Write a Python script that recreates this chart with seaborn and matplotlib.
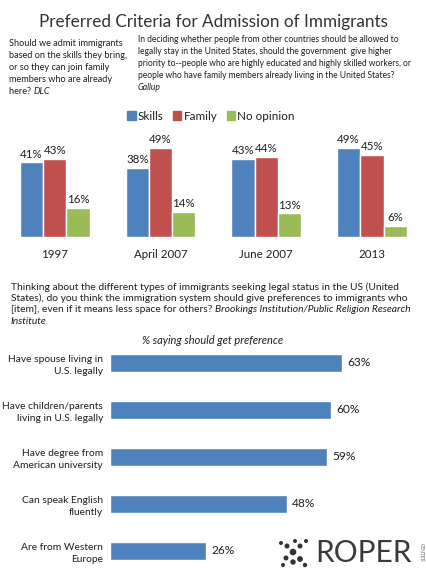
import matplotlib
matplotlib.use("Agg")
import matplotlib.pyplot as plt
import pandas as pd
import seaborn as sns
from matplotlib.patches import Patch, Circle

# --- data ---
periods = ["1997", "April 2007", "June 2007", "2013"]
series = ["Skills", "Family", "No opinion"]
skills = [41, 38, 43, 49]
family = [43, 49, 44, 45]
no_opinion = [16, 14, 13, 6]

items = [
    "Have spouse living in\nU.S. legally",
    "Have children/parents\nliving in U.S. legally",
    "Have degree from\nAmerican university",
    "Can speak English\nfluently",
    "Are from Western\nEurope",
]
pref = [63, 60, 59, 48, 26]

colors = ["#4F81BD", "#C0504D", "#9BBB59"]
TXT = "#1e1e1e"
W, H = 427, 570


def fx(x):
    return x / W


def fy(y):
    return 1 - y / H


sns.set_theme(style="white")
plt.rcParams["font.family"] = ["Lato", "DejaVu Sans"]
plt.rcParams["text.color"] = TXT

fig = plt.figure(figsize=(W / 100, H / 100), dpi=100)
renderer = fig.canvas.get_renderer()


def write_line(x, y, segs, size):
    # segs: list of (text, style); drawn one after another on the same baseline
    for txt, st in segs:
        t = fig.text(fx(x), fy(y), txt, fontsize=size, style=st,
                     ha="left", va="center")
        x += t.get_window_extent(renderer).width


def write_block(x, ys, lines, size):
    for y, ln in zip(ys, lines):
        if isinstance(ln, str):
            ln = [(ln, "normal")]
        write_line(x, y, ln, size)


# --- header texts ---
fig.text(0.5, fy(22), "Preferred Criteria for Admission of Immigrants",
         ha="center", va="center", fontsize=12.3, color="#333333")

write_block(9, [43, 55, 67, 79, 91], [
    "Should we admit immigrants",
    "based on the skills they bring,",
    "or so they can join family",
    "members who are already",
    [("here? ", "normal"), ("DLC", "italic")],
], 6.6)
write_block(138, [40, 52, 64, 76, 88], [
    "In deciding whether people from other countries should be allowed to",
    "legally stay in the United States, should the government  give higher",
    "priority to--people who are highly educated and highly skilled workers, or",
    "people who have family members already living in the United States?",
    [("Gallup", "italic")],
], 6.15)

# --- top grouped bar chart ---
top = pd.DataFrame({
    "period": periods * 3,
    "series": [s for s in series for _ in periods],
    "value": skills + family + no_opinion,
})
ax1 = fig.add_axes([fx(2), fy(237), 0.99, 109.2 / H])
sns.barplot(data=top, x="period", y="value", hue="series", order=periods,
            hue_order=series, palette=colors, width=0.66, saturation=1,
            gap=0, ax=ax1, legend=False)
for cont in ax1.containers:
    ax1.bar_label(cont, fmt="%d%%", padding=2, fontsize=8.3, color=TXT)
ax1.set_xlim(-0.5, 3.5)
ax1.set_ylim(0, 60)
ax1.set_xlabel("")
ax1.set_ylabel("")
ax1.set_yticks([])
ax1.tick_params(axis="x", length=0, pad=9, labelsize=8.3, labelcolor=TXT)
sns.despine(ax=ax1, left=True, bottom=True)

handles = [Patch(color=c, label=s) for c, s in zip(colors, series)]
fig.legend(handles=handles, loc="center", bbox_to_anchor=(fx(211), fy(116)),
           ncol=3, frameon=False, fontsize=8.4, handlelength=0.7, handleheight=0.7,
           handletextpad=0.2, columnspacing=0.8)

# --- middle texts ---
write_block(11, [287, 298.5, 310, 321], [
    "Thinking about the different types of immigrants seeking legal status in the US (United",
    "States), do you think the immigration system should give preferences to immigrants who",
    [("[item], even if it means less space for others? ", "normal"),
     ("Brookings Institution/Public Religion Research", "italic")],
    [("Institute", "italic")],
], 7.4)
fig.text(fx(213), fy(341), "% saying should get preference", ha="center", va="center",
         fontsize=7.9, style="italic")

# --- bottom horizontal bar chart ---
ax2 = fig.add_axes([fx(110), fy(574.5), 294.4 / W, 235 / H])
sns.barplot(x=pref, y=items, orient="h", color=colors[0], width=0.40,
            saturation=1, ax=ax2)
ax2.bar_label(ax2.containers[0], fmt="%d%%", padding=4, fontsize=8.6, color=TXT)
ax2.set_xlim(0, 80)
ax2.set_ylim(4.5, -0.5)
ax2.set_xticks([])
ax2.tick_params(axis="y", length=0, pad=5, labelsize=7.4, labelcolor=TXT)
for t in ax2.get_yticklabels():
    t.set_linespacing(1.45)
sns.despine(ax=ax2, left=True, bottom=True)

# --- ROPER logo ---
fig.text(fx(315), fy(553), "ROPER", ha="left", va="center", fontsize=21.5,
         color="#3a3a3a")
fig.text(fx(421), fy(552), "CENTER", ha="center", va="center", fontsize=3.5,
         rotation=-90, color="#666666")
dots = [(293, 552, 2.6), (287, 546, 1.8), (300, 546, 1.8), (286, 558, 1.8),
        (300, 559, 2.2), (293, 562, 2.0), (281, 543, 1.3), (306, 541, 1.3),
        (283, 565, 1.3), (295, 541, 1.3), (305, 565, 1.5)]
for x, y, r in dots:
    fig.add_artist(Circle((x, H - y), r, transform=None, color="#333333"))

fig.savefig("out.png", dpi=100)
